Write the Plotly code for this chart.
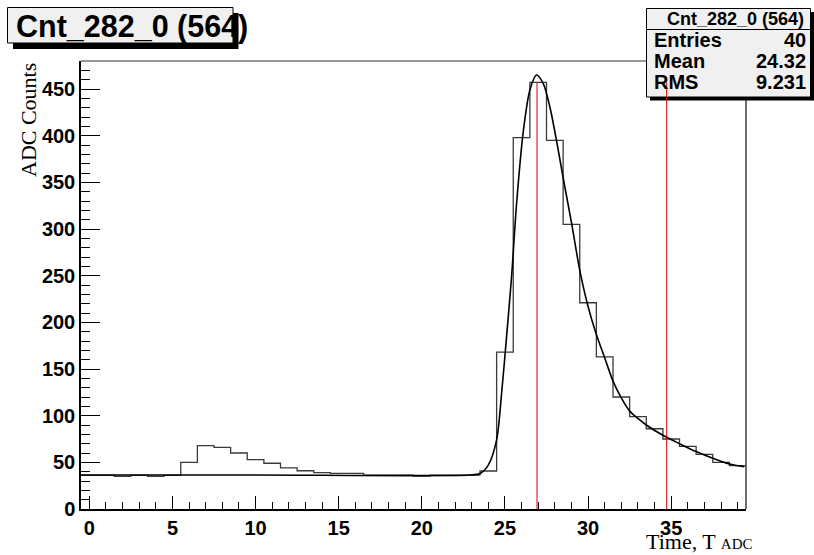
import plotly.graph_objects as go

# ---------------- data ----------------
bin_centers = list(range(40))
counts = [36, 36, 35, 36, 35, 36, 50, 68, 66, 60,
          53, 49, 44, 41, 39, 38.2, 38.2, 36.4, 36.4, 36.4,
          35.3, 36.4, 36.4, 36.4, 40.7, 168, 398, 457, 395, 305,
          221, 163, 120, 99, 86, 75, 67, 58.5, 50, 46.4]

fit_x = [-0.5, 10.0, 22.9, 23.5, 24.0, 24.5, 24.8, 25.1, 25.4, 25.7,
         26.1, 26.5, 26.9, 27.3, 27.7, 28.1, 28.5, 29.0, 29.5, 30.0,
         30.5, 31.0, 31.5, 32.0, 32.5, 33.0, 33.5, 34.5, 35.5, 36.5,
         37.5, 38.5, 39.4]
fit_y = [36.4, 36.4, 36.4, 38.0, 47, 74, 124, 185, 249, 327,
         404, 449, 465, 456, 431, 395, 355, 307, 256, 217,
         187, 162, 137, 119, 105, 97, 90, 79, 70, 61.5,
         54.3, 48.2, 45.3]

marker_x = [26.93, 34.73]
marker_top = 457

hist_title = "Cnt_282_0 (564)"
stats_labels = ["Entries", "Mean", "RMS"]
stats_values = ["40", "24.32", "9.231"]

x_tick_step = 5
y_tick_step = 50
x_range = [-0.5, 39.5]
y_range = [0, 480]

# ---------------- geometry ----------------
W, H = 814, 555
ML, MR, MT, MB = 81, 68, 61, 46
PW, PH = W - ML - MR, H - MT - MB


def px(x):
    return (x - ML) / PW


def py(y):
    return (H - MB - y) / PH


# step outline built from the bins
edges = [c - 0.5 for c in bin_centers] + [bin_centers[-1] + 0.5]
step_y = counts + [counts[-1]]

fig = go.Figure()

fig.add_trace(go.Scatter(
    x=edges, y=step_y, mode="lines", line_shape="hv",
    line=dict(color="#3a3a3a", width=1.3), hoverinfo="skip", showlegend=False))

fig.add_trace(go.Scatter(
    x=fit_x, y=fit_y, mode="lines", line_shape="spline",
    line=dict(color="black", width=1.6, smoothing=0.8), hoverinfo="skip", showlegend=False))

for mx in marker_x:
    fig.add_trace(go.Scatter(
        x=[mx, mx], y=[0, marker_top], mode="lines",
        line=dict(color="#d00000", width=1), hoverinfo="skip", showlegend=False))

shapes = []
# frame top / right lines (below layer so boxes cover them)
shapes.append(dict(type="line", xref="paper", yref="paper", x0=0, x1=1, y0=1, y1=1,
                   line=dict(color="#333333", width=1.2), layer="below"))
shapes.append(dict(type="line", xref="paper", yref="paper", x0=1, x1=1, y0=0, y1=1,
                   line=dict(color="#4a3838", width=1.5), layer="below"))

# title box with shadow
shapes.append(dict(type="rect", xref="paper", yref="paper",
                   x0=px(13), x1=px(238.5), y0=py(49), y1=py(13),
                   fillcolor="black", line=dict(width=0), layer="below"))
shapes.append(dict(type="rect", xref="paper", yref="paper",
                   x0=px(7.5), x1=px(233), y0=py(43), y1=py(7.5),
                   fillcolor="#f0f0f0", line=dict(color="black", width=1), layer="below"))

# stats box with shadow
shapes.append(dict(type="rect", xref="paper", yref="paper",
                   x0=px(650), x1=px(814), y0=py(100.5), y1=py(12),
                   fillcolor="black", line=dict(width=0), layer="below"))
shapes.append(dict(type="rect", xref="paper", yref="paper",
                   x0=px(646.5), x1=px(810.5), y0=py(97), y1=py(8.5),
                   fillcolor="#f0f0f0", line=dict(color="black", width=1), layer="below"))
shapes.append(dict(type="line", xref="paper", yref="paper",
                   x0=px(646.5), x1=px(810.5), y0=py(29.5), y1=py(29.5),
                   line=dict(color="black", width=1), layer="below"))

sans_b = dict(family="Liberation Sans, Arial, sans-serif", color="black", weight="bold")
serif = dict(family="Liberation Serif, Times New Roman, serif", color="black")

annotations = []
annotations.append(dict(text=hist_title, xref="paper", yref="paper",
                        x=px(14), y=py(26), xanchor="left", yanchor="middle",
                        showarrow=False, font=dict(size=30.5, **sans_b)))
annotations.append(dict(text=hist_title, xref="paper", yref="paper",
                        x=px(735), y=py(18.5), xanchor="center", yanchor="middle",
                        showarrow=False, font=dict(size=18, **sans_b)))
row_y = [40, 61, 82]
for lab, val, ry in zip(stats_labels, stats_values, row_y):
    annotations.append(dict(text=lab, xref="paper", yref="paper",
                            x=px(652), y=py(ry), xanchor="left", yanchor="middle",
                            showarrow=False, font=dict(size=20, **sans_b)))
    annotations.append(dict(text=val, xref="paper", yref="paper",
                            x=px(808), y=py(ry), xanchor="right", yanchor="middle",
                            showarrow=False, font=dict(size=20, **sans_b)))

annotations.append(dict(text="ADC Counts", xref="paper", yref="paper",
                        x=px(28), y=py(120), xanchor="center", yanchor="middle",
                        textangle=-90, showarrow=False, font=dict(size=22, **serif)))
annotations.append(dict(text='Time, T <span style="font-size:15px">ADC</span>',
                        xref="paper", yref="paper",
                        x=px(644), y=py(541), xanchor="left", yanchor="middle",
                        showarrow=False, font=dict(size=22, **serif)))

fig.update_layout(
    width=W, height=H, autosize=False,
    margin=dict(l=ML, r=MR, t=MT, b=MB, pad=0),
    paper_bgcolor="white", plot_bgcolor="white",
    showlegend=False,
    shapes=shapes, annotations=annotations,
    xaxis=dict(range=x_range, tick0=0, dtick=x_tick_step, ticks="inside", ticklen=13,
               tickwidth=1, tickcolor="black", showgrid=False, zeroline=False,
               showline=True, linecolor="black", linewidth=1.5, mirror=False,
               tickfont=dict(size=20, **sans_b),
               minor=dict(ticks="inside", dtick=1, ticklen=7, tickcolor="black", tickwidth=1,
                          showgrid=False)),
    yaxis=dict(range=y_range, tick0=0, dtick=y_tick_step, ticks="inside", ticklen=19,
               tickwidth=1, tickcolor="black", showgrid=False, zeroline=False,
               showline=True, linecolor="black", linewidth=1.5, mirror=False,
               tickfont=dict(size=20, **sans_b),
               minor=dict(ticks="inside", dtick=10, ticklen=9.5, tickcolor="black", tickwidth=1,
                          showgrid=False)),
)

fig.write_html("out.html")
